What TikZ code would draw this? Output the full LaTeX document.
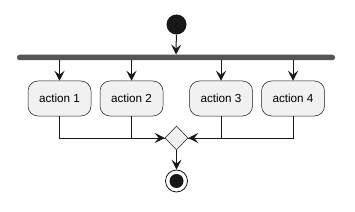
\documentclass[tikz,border=0pt]{standalone}
\usepackage{fontspec}
\setmainfont{Liberation Sans}
\usetikzlibrary{arrows.meta,shapes.geometric}
\definecolor{boxfill}{HTML}{F1F1F1}
\definecolor{ink}{HTML}{181818}
\definecolor{barc}{HTML}{555555}
\tikzset{
  act/.style={draw=ink, line width=0.5pt, fill=boxfill, rounded corners=10pt,
    minimum width=63pt, minimum height=35pt, inner sep=0pt,
    font=\fontsize{11.7}{14}\selectfont},
  flow/.style={draw=ink, line width=1pt, -{Stealth[length=10pt,width=10pt,inset=4pt]}},
  plain/.style={draw=ink, line width=1pt},
}
\begin{document}
\begin{tikzpicture}[x=1pt,y=-1pt]
\useasboundingbox (0,0) rectangle (355,211);
\node[circle, fill=ink, minimum size=20pt, inner sep=0pt] (start) at (176.5,24.5) {};
\node[fill=barc, rounded corners=2.5pt, minimum width=318pt, minimum height=5.5pt, inner sep=0pt] (bar) at (176,57.5) {};
\node[act] (a1) at (59.5,98.5) {action 1};
\node[act] (a2) at (131.5,98.5) {action 2};
\node[act] (a3) at (221,98.5) {action 3};
\node[act] (a4) at (293,98.5) {action 4};
\node[diamond, draw=ink, line width=0.5pt, fill=boxfill, minimum width=23pt, minimum height=24pt, inner sep=0pt, aspect=1] (m) at (176.5,138) {};
\node[circle, draw=ink, line width=0.8pt, fill=white, minimum size=22pt, inner sep=0pt] (end) at (176.5,181) {};
\node[circle, fill=ink, minimum size=14pt, inner sep=0pt] at (end) {};
\draw[flow] (start) -- (bar);
\draw[flow] (a1 |- bar.south) -- (a1.north);
\draw[flow] (a2 |- bar.south) -- (a2.north);
\draw[flow] (a3 |- bar.south) -- (a3.north);
\draw[flow] (a4 |- bar.south) -- (a4.north);
\draw[plain] (a1.south) |- (m.west);
\draw[flow] (a2.south) |- (m.west);
\draw[plain] (a4.south) |- (m.east);
\draw[flow] (a3.south) |- (m.east);
\draw[flow] (m.south) -- (end.north);
\end{tikzpicture}
\end{document}
